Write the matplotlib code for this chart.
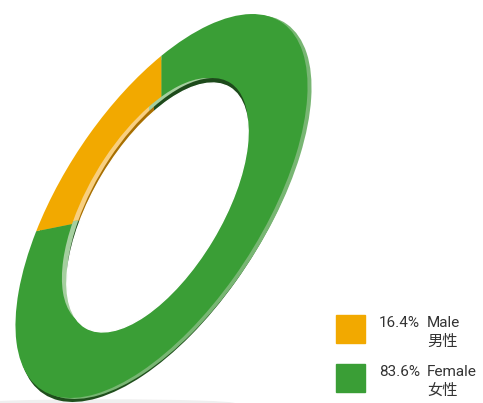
import matplotlib.pyplot as plt
from matplotlib.patches import Ellipse, Rectangle
from matplotlib.transforms import Affine2D

# Data
labels_en = ['Male', 'Female']
labels_cn = ['男性', '女性']
shares = [16.4, 83.6]

face_colors = ['#f2a900', '#3a9e36']
rim_light = ['#f6c45a', '#78b673']
rim_dark = ['#8a5c00', '#1f4f1c']
wall_light = ['#f8cf80', '#a5cf9f']
wall_dark = ['#a86f00', '#1d4a1b']

plt.rcParams['font.family'] = ['Roboto', 'Noto Sans CJK SC', 'DejaVu Sans']

fig = plt.figure(figsize=(4.83, 4.03), dpi=100)
ax = fig.add_axes([0, 0, 1, 1])

# outer ellipse of the tilted ring (pixel units, y up)
cx, cy, a, b = 161.5, 197.0, 219.5, 100.0
tilt = -33
# hole of the top face
hx, hy, ha, hb = 152.5, 200.5, 140.0, 64.0
htilt = -31


def ring_layer(cols, sa, sb, x0, y0, rot, z):
    wedges, _ = ax.pie(shares, colors=cols, startangle=145, counterclock=True,
                       wedgeprops=dict(linewidth=0))
    tr = Affine2D().scale(sb, sa).rotate_deg(rot).translate(x0, y0) + ax.transData
    for w in wedges:
        w.set_transform(tr)
        w.set_zorder(z)


# soft shadow under the ring
ax.add_patch(Ellipse((105, -1), 260, 8, color='#efefef', zorder=0))

# outer rim (thickness) then the top face
ring_layer(rim_dark, a, b, cx + 2, cy - 4, tilt, 1)
ring_layer(rim_light, a, b, cx + 4, cy - 1, tilt, 2)
ring_layer(face_colors, a, b, cx, cy, tilt, 3)

# inner wall of the hole
ring_layer(wall_light, ha, hb, hx, hy, htilt, 4)
ring_layer(wall_dark, ha, hb, hx + 5, hy, htilt, 5)
ax.add_patch(Ellipse((hx + 5, hy - 5), 2 * hb, 2 * ha, angle=htilt,
                     color='white', zorder=6))

# legend
box_y = [60, 11]
for i in range(len(shares)):
    ax.add_patch(Rectangle((336, box_y[i]), 29, 28, color=face_colors[i], zorder=7))
    ax.text(379, box_y[i] + 16, f'{shares[i]:.1f}%', fontsize=11,
            color='#333333', va='baseline')
    ax.text(427, box_y[i] + 16, labels_en[i], fontsize=11,
            color='#333333', va='baseline')
    ax.text(427, box_y[i] - 3, labels_cn[i], fontsize=11,
            color='#333333', va='baseline')

ax.set_xlim(0, 483)
ax.set_ylim(0, 403)
ax.set_aspect('auto')
ax.axis('off')

fig.savefig('out.png', dpi=100)
